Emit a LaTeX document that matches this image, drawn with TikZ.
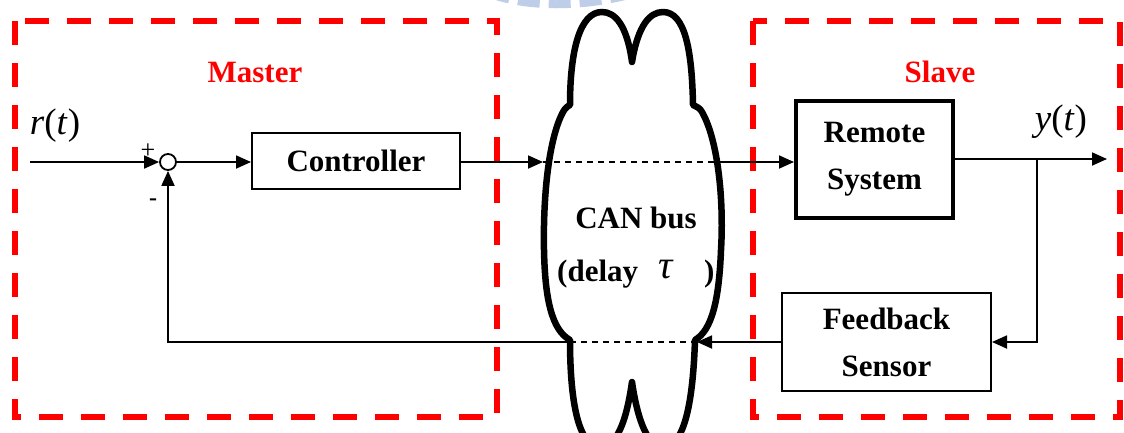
\documentclass[tikz,border=0pt]{standalone}
\usepackage{fontspec}
\setmainfont{Liberation Serif}
\usetikzlibrary{arrows.meta}
\definecolor{framered}{RGB}{255,0,0}
\definecolor{markblue}{RGB}{190,205,232}

\tikzset{
  conn/.style={line width=1.8pt, -{Triangle[length=15pt,width=13pt]}},
  busdash/.style={line width=1.5pt, dash pattern=on 6pt off 5pt},
  groupframe/.style={draw=framered, line width=6pt, dash pattern=on 24pt off 18pt},
  blocktext/.style={font=\fontsize{31}{47}\selectfont\bfseries, align=center, inner sep=0pt},
  block/.style={draw, line width=2pt, blocktext},
  grouplabel/.style={font=\fontsize{31}{37}\selectfont\bfseries, text=framered, inner sep=0pt},
  sig/.style={font=\fontsize{37}{42}\selectfont, inner sep=0pt},
  cloudline/.style={draw, line width=6.5pt, fill=white, line join=round},
}

\begin{document}
\begin{tikzpicture}[x=1pt,y=-1pt]
\useasboundingbox (0,0) rectangle (1124,432);

% faint mark at the top edge
\draw[markblue, line width=8pt, dash pattern=on 22pt off 9pt]
  (488,-7) .. controls (525,8) and (585,8) .. (636,-7);

% group frames
\draw[groupframe] (15,21) rectangle (497,417);
\draw[groupframe] (753,21) rectangle (1120,417);
\node[grouplabel, anchor=base] (mlabel) at (255,82) {Master};
\node[grouplabel, anchor=base] (slabel) at (940,82) {Slave};

% CAN bus cloud
\path[cloudline]
  (632,62) .. controls (638,25) and (650,12) .. (663,12)
           .. controls (685,12) and (692,50) .. (693,105)
           .. controls (697,107) and (700,108) .. (702,112)
           .. controls (718,140) and (724,200) .. (721,250)
           .. controls (719,300) and (712,330) .. (695,340)
           .. controls (693,400) and (685,447) .. (663,447)
           .. controls (645,447) and (636,410) .. (632,382)
           .. controls (628,410) and (620,447) .. (600,447)
           .. controls (578,447) and (570,400) .. (570,340)
           .. controls (552,330) and (545,300) .. (544,250)
           .. controls (543,200) and (548,140) .. (563,112)
           .. controls (565,108) and (568,106) .. (570,105)
           .. controls (570,50) and (580,12) .. (602,12)
           .. controls (615,12) and (627,25) .. (632,62) -- cycle;

\coordinate (busInL) at (543,162);
\coordinate (busInR) at (719,162);
\coordinate (busRetR) at (697,342);
\coordinate (busRetL) at (571,342);

\node[blocktext, anchor=base] (buslbl) at (636,228) {CAN bus};
\node[blocktext, anchor=base west] (delaylbl) at (557,281) {(delay};
\node[font=\fontsize{40}{42}\selectfont\itshape, inner sep=0pt, anchor=base] (taulbl) at (666,278) {τ};
\node[blocktext, anchor=base west] (delayclose) at (704,281) {)};

% blocks
\node[circle, draw, line width=1.8pt, minimum size=16pt, inner sep=0pt] (sum) at (168,162) {};
\node[block, minimum width=208pt, minimum height=56pt] (ctrl) at (356,161) {Controller};
\node[block, line width=4pt, minimum width=157pt, minimum height=117pt] (remote) at (874.5,159.5) {Remote\\System};
\node[block, minimum width=209pt, minimum height=98pt] (fb) at (886.5,342) {Feedback\\Sensor};

% signs and signals
\node[font=\fontsize{26}{30}\selectfont, inner sep=0pt] (plus) at (148,151) {+};
\node[font=\fontsize{24}{30}\selectfont\bfseries, inner sep=0pt] (minus) at (153,202) {-};
\node[sig, anchor=base] (rlabel) at (55,134) {\textit{r}(\textit{t})};
\node[sig, anchor=base] (ylabel) at (1061,130) {\textit{y}(\textit{t})};

% connectors
\coordinate (rin) at (30,162);
\coordinate (yout) at (1107,159);
\coordinate (tap) at (1037,159);
\draw[conn] (rin) -- (sum.west);
\draw[conn] (sum.east) -- (ctrl.west |- sum.east);
\draw[conn] (ctrl.east |- busInL) -- (busInL);
\draw[busdash] (busInL) -- (busInR);
\draw[conn] (busInR) -- (remote.west |- busInR);
\draw[conn] (remote.east |- yout) -- (yout);
\draw[conn] (tap) |- (fb.east);
\draw[conn] (fb.west) -- (busRetR);
\draw[busdash] (busRetR) -- (busRetL);
\draw[conn] (busRetL) -| (sum.south);
\end{tikzpicture}
\end{document}
